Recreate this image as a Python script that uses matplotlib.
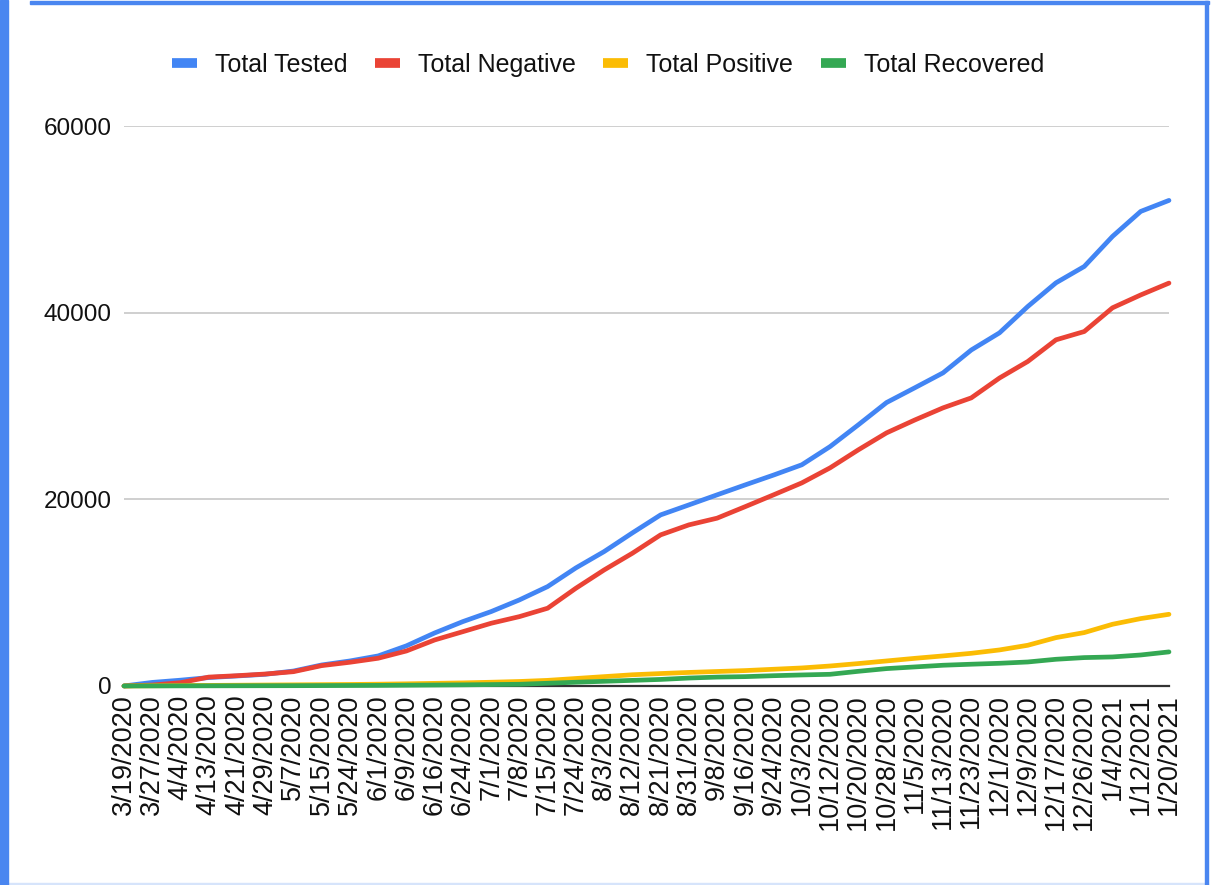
import matplotlib
matplotlib.use("Agg")
import matplotlib.pyplot as plt
from matplotlib.patches import Rectangle

# x-axis category labels (one data point read at each label)
dates = ['3/19/2020', '3/27/2020', '4/4/2020', '4/13/2020', '4/21/2020', '4/29/2020',
         '5/7/2020', '5/15/2020', '5/24/2020', '6/1/2020', '6/9/2020', '6/16/2020',
         '6/24/2020', '7/1/2020', '7/8/2020', '7/15/2020', '7/24/2020', '8/3/2020',
         '8/12/2020', '8/21/2020', '8/31/2020', '9/8/2020', '9/16/2020', '9/24/2020',
         '10/3/2020', '10/12/2020', '10/20/2020', '10/28/2020', '11/5/2020', '11/13/2020',
         '11/23/2020', '12/1/2020', '12/9/2020', '12/17/2020', '12/26/2020', '1/4/2021',
         '1/12/2021', '1/20/2021']

total_tested = [0, 380, 620, 900, 1070, 1250, 1600, 2250, 2680, 3220, 4300, 5680,
                6900, 7970, 9220, 10650, 12650, 14400, 16400, 18330, 19400, 20480,
                21550, 22600, 23700, 25650, 27980, 30370, 31950, 33550, 36000, 37840,
                40660, 43200, 44950, 48170, 50850, 52030]

total_negative = [0, 100, 350, 950, 1100, 1280, 1530, 2180, 2540, 2970, 3750, 4930,
                  5820, 6720, 7430, 8330, 10470, 12430, 14220, 16190, 17260, 17980,
                  19220, 20480, 21760, 23370, 25300, 27120, 28500, 29800, 30870, 33000,
                  34770, 37090, 37980, 40520, 41900, 43170]

total_positive = [0, 20, 40, 60, 80, 100, 120, 140, 160, 190, 230, 280, 330, 400, 480,
                  600, 800, 1000, 1200, 1330, 1450, 1550, 1650, 1790, 1930, 2140, 2400,
                  2680, 2960, 3220, 3500, 3860, 4360, 5180, 5720, 6610, 7220, 7680]

total_recovered = [0, 5, 10, 15, 20, 25, 30, 40, 50, 60, 80, 100, 120, 150, 180, 290,
                   400, 500, 600, 700, 850, 950, 1000, 1100, 1180, 1250, 1570, 1860,
                   2040, 2220, 2330, 2430, 2570, 2860, 3040, 3110, 3320, 3650]

series = [
    ('Total Tested', total_tested, '#4285F4'),
    ('Total Negative', total_negative, '#EA4335'),
    ('Total Positive', total_positive, '#FBBC04'),
    ('Total Recovered', total_recovered, '#34A853'),
]

plt.rcParams['font.family'] = ['Liberation Sans', 'DejaVu Sans']

fig = plt.figure(figsize=(12.12, 8.85), dpi=100)
ax = fig.add_axes([0.1023, 0.2249, 0.8622, 0.6327])

x = list(range(len(dates)))
handles = []
for name, vals, color in series:
    h, = ax.plot(x, vals, color=color, lw=3.4, label=name, solid_capstyle='round',
                 clip_on=False, zorder=3)
    handles.append(h)

ax.set_xlim(0, len(dates) - 1)
ax.set_ylim(0, 60000)
ax.set_yticks([0, 20000, 40000, 60000])
ax.set_yticklabels(['0', '20000', '40000', '60000'], fontsize=17.5, color='#111111')
ax.set_xticks(x)
ax.set_xticklabels(dates, rotation=90, fontsize=19.5, color='#111111')
ax.tick_params(axis='both', length=0)
ax.tick_params(axis='y', pad=9)
ax.tick_params(axis='x', pad=6)

ax.grid(axis='y', color='#cccccc', lw=1.3, zorder=0)
ax.axhline(0, color='#333333', lw=1.6, zorder=2, clip_on=False)
for s in ax.spines.values():
    s.set_visible(False)

leg = fig.legend(handles=handles, loc='center', bbox_to_anchor=(0.5017, 0.927), ncol=4,
                 frameon=False, fontsize=18, handlelength=1.0, handletextpad=0.72,
                 columnspacing=1.1)
for lh in leg.get_lines():
    lh.set_linewidth(7)
    lh.set_solid_capstyle('butt')
for t in leg.get_texts():
    t.set_color('#111111')

# blue frame around the chart
blue = '#4a86f0'
fig.patches.append(Rectangle((0, 0), 8 / 1212, 1, transform=fig.transFigure,
                             color=blue, zorder=10))
fig.patches.append(Rectangle((30 / 1212, 1 - 4 / 885), 1179 / 1212, 2.5 / 885,
                             transform=fig.transFigure, color=blue, zorder=10))
fig.patches.append(Rectangle((1205 / 1212, 0), 3 / 1212, 1 - 1 / 885,
                             transform=fig.transFigure, color=blue, zorder=10))
fig.patches.append(Rectangle((0, 0), 1208 / 1212, 2 / 885, transform=fig.transFigure,
                             color='#d6e4fb', zorder=9))

fig.savefig('out.png', dpi=100)
